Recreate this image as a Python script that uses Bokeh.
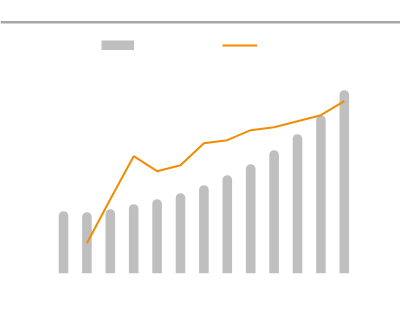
from bokeh.plotting import figure
from bokeh.models import ColumnDataSource, Range1d, Span, Legend, LegendItem
from bokeh.embed import file_html
from bokeh.resources import INLINE

# Data (arbitrary units)
categories = list(range(13))
bar_values = [62, 61, 64, 69, 74, 80, 88, 98, 109, 123, 139, 158, 183]
line_x = list(range(1, 13))
line_values = [30, 74, 117, 102, 108, 130, 133, 143, 146, 152, 158, 172]

BAR_COLOR = "#bfbfbf"
LINE_COLOR = "#f28c00"

p = figure(width=400, height=326, output_backend="svg", toolbar_location=None,
           min_border=0, min_border_left=0, min_border_right=0,
           min_border_top=0, min_border_bottom=0)
p.x_range = Range1d(-63 / 23.4, -63 / 23.4 + 400 / 23.4)
p.y_range = Range1d(-53.3, 272.7)
p.axis.visible = False
p.grid.visible = False
p.outline_line_color = None
p.background_fill_color = "white"
p.border_fill_color = "white"

bars = p.vbar(x=categories, top=bar_values, bottom=0, width=0.41,
              fill_color=BAR_COLOR, line_color=None, border_radius=(5, 5, 0, 0))
line = p.line(x=line_x, y=line_values, line_color=LINE_COLOR, line_width=2)

# thick swatch for the bar series legend entry (draws nothing in the plot)
nan = float("nan")
swatch = p.line(x=[nan, nan], y=[nan, nan], line_color=BAR_COLOR, line_width=10)

top_rule = Span(location=251, dimension="width", line_color="#a6a6a6", line_width=2.5)
p.add_layout(top_rule)

common = dict(orientation="horizontal", padding=0, margin=0, spacing=0,
              border_line_color=None, background_fill_alpha=0,
              glyph_height=10, label_width=0, label_height=10,
              label_standoff=0, label_text_font_size="8px", label_text_color="white")
leg1 = Legend(items=[LegendItem(label="", renderers=[swatch, bars])],
              location=(101, 326 - 50), glyph_width=33, **common)
leg2 = Legend(items=[LegendItem(label="", renderers=[line])],
              location=(222, 326 - 50), glyph_width=35, **common)
p.add_layout(leg1, "center")
p.add_layout(leg2, "center")

open("out.html", "w").write(file_html(p, INLINE))
